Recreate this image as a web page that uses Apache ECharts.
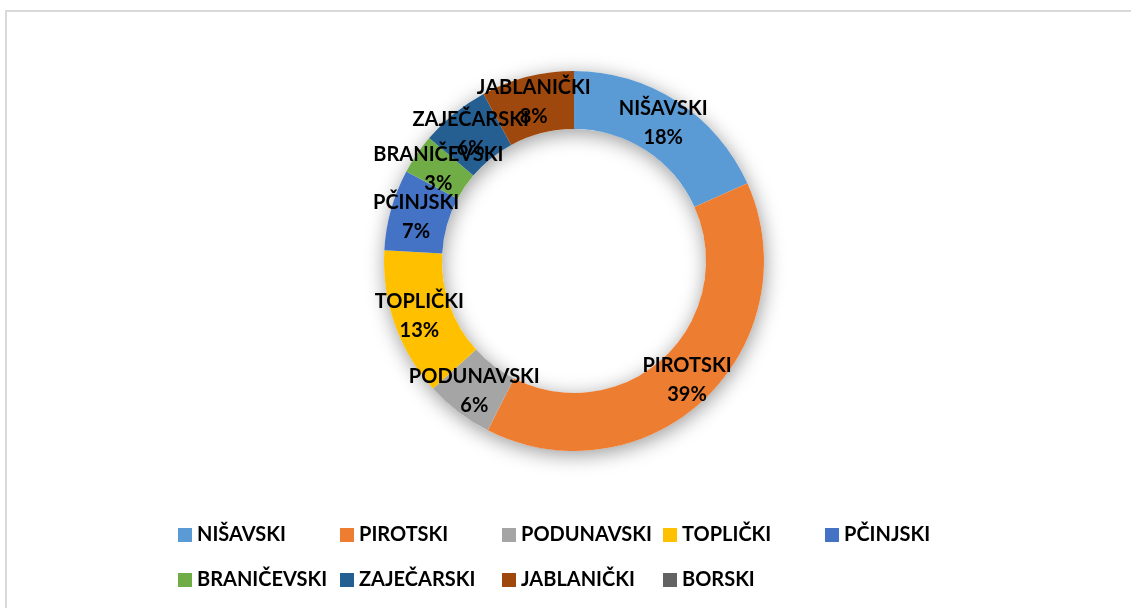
<!DOCTYPE html>
<html>
<head>
<meta charset="utf-8">
<script src="https://cdn.jsdelivr.net/npm/echarts@6/dist/echarts.min.js"></script>
<style>
html,body{margin:0;padding:0;background:#fff;overflow:hidden;}
#chart{position:absolute;left:0;top:0;width:1131px;height:608px;}
#frame{position:absolute;left:5px;top:10px;width:2000px;height:2000px;border-top:2px solid #d9d9d9;border-left:2px solid #d9d9d9;pointer-events:none;}
</style>
</head>
<body>
<div id="chart"></div>
<div id="frame"></div>
<script>
const categories = ['NIŠAVSKI','PIROTSKI','PODUNAVSKI','TOPLIČKI','PČINJSKI','BRANIČEVSKI','ZAJEČARSKI','JABLANIČKI','BORSKI'];
const values = [18.3, 39.2, 5.8, 12.6, 6.9, 3.4, 5.9, 7.9, 0];
const colors = ['#5B9BD5','#ED7D31','#A5A5A5','#FFC000','#4472C4','#70AD47','#255E91','#9E480E','#636363'];

const total = values.reduce((a,b)=>a+b,0);
const FONT = 'Lato, "Open Sans", sans-serif';

const data = categories.map((c,i)=>{
  const d = {name:c, value:values[i], itemStyle:{color:colors[i]}};
  if (values[i] === 0) d.label = {show:false};
  return d;
});

const legendCols = [178, 340, 502, 663, 825];
const legendRows = [525, 570];
const legends = categories.map((c,i)=>({
  data:[c],
  left: legendCols[i % 5],
  top: legendRows[Math.floor(i/5)],
  orient:'horizontal',
  padding:0,
  icon:'rect',
  itemWidth:14,
  itemHeight:14,
  selectedMode:false,
  textStyle:{fontFamily:FONT, fontWeight:'bold', fontSize:20, color:'#000', lineHeight:20}
}));

const chart = echarts.init(document.getElementById('chart'), null, {renderer:'canvas'});
chart.setOption({
  animation:false,
  backgroundColor:'#fff',
  legend: legends,
  series:[
    {
      type:'pie', silent:true, center:[574,261], radius:[132,190],
      label:{show:false}, labelLine:{show:false},
      itemStyle:{color:'#fff', shadowBlur:20, shadowColor:'rgba(0,0,0,0.4)', shadowOffsetY:4, shadowOffsetX:1},
      data:[{value:1, name:'__shadow'}],
      legendHoverLink:false
    },
    {
      type:'pie', center:[574,261], radius:[132,190],
      startAngle:90, clockwise:true,
      avoidLabelOverlap:false,
      labelLayout:{hideOverlap:false},
      itemStyle:{borderWidth:0},
      emphasis:{disabled:true},
      label:{
        show:true, position:'inside',
        fontFamily:FONT, fontWeight:'bold', fontSize:20, lineHeight:29, color:'#000',
        formatter:(p)=> p.name + '\n' + Math.round(p.value/total*100) + '%'
      },
      labelLine:{show:false},
      data:data
    }
  ]
});
</script>
</body>
</html>
